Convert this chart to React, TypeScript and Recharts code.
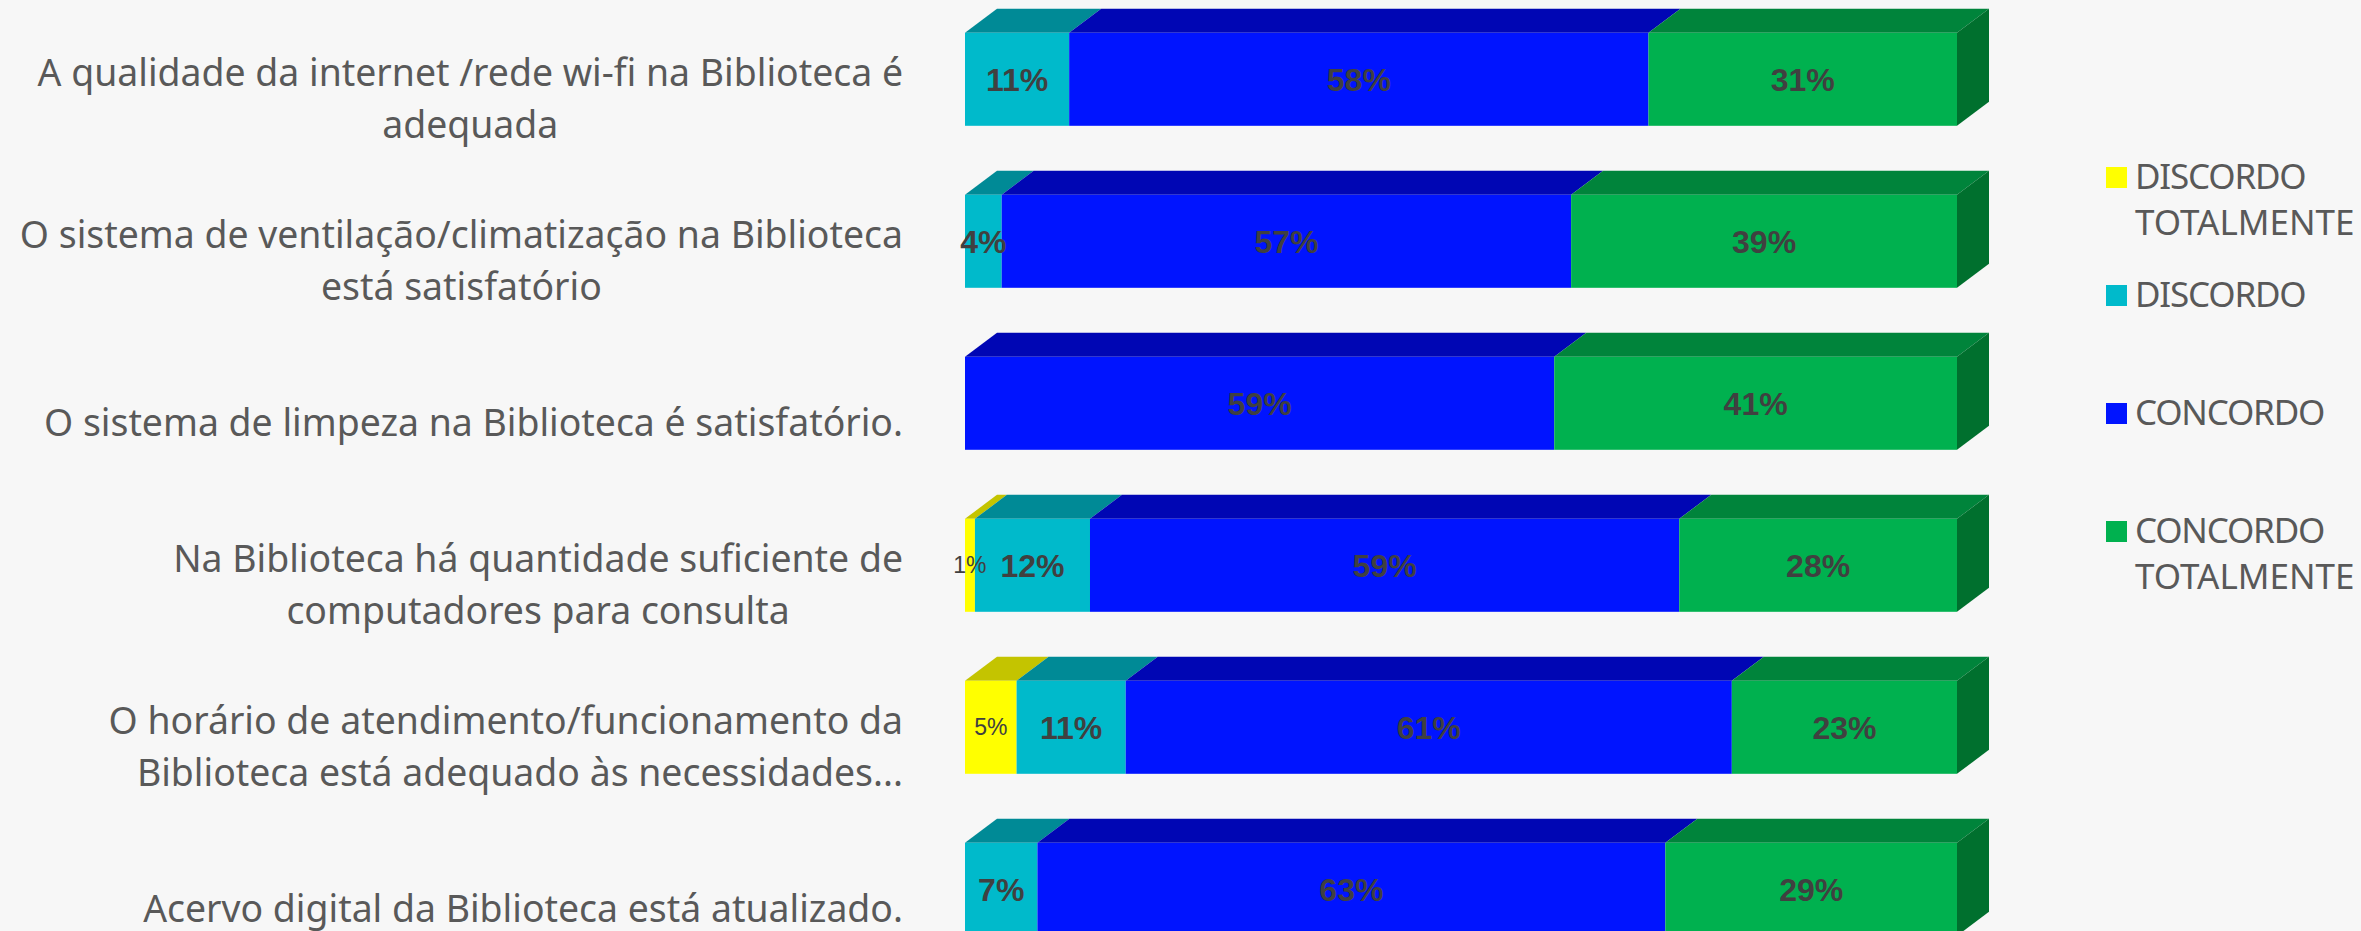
import React from "react";
import { BarChart, Bar, XAxis, YAxis, Legend, LabelList } from "recharts";

const categories = [
  "A qualidade da internet /rede wi-fi na Biblioteca é\nadequada",
  "O sistema de ventilação/climatização na Biblioteca\nestá satisfatório",
  "O sistema de limpeza na Biblioteca é satisfatório.",
  "Na Biblioteca há quantidade suficiente de\ncomputadores para consulta",
  "O horário de atendimento/funcionamento da\nBiblioteca está adequado às necessidades...",
  "Acervo digital da Biblioteca está atualizado.",
];
const discordoTotalmente = [0, 0, 0, 1, 5.2, 0];
const discordo = [10.5, 3.7, 0, 11.6, 11, 7.3];
const concordo = [58.4, 57.4, 59.4, 59.4, 61.1, 63.3];
const concordoTotalmente = [31.1, 38.9, 40.6, 28, 22.7, 29.4];

const seriesNames = ["DISCORDO TOTALMENTE", "DISCORDO", "CONCORDO", "CONCORDO TOTALMENTE"];
const seriesColors = ["#FFFF00", "#00BACB", "#0014FF", "#00B14F"];
const topColors = ["#C4C400", "#008A96", "#0006B4", "#00843B"];
const sideColor = "#00702E";

const data = categories.map((name, i) => ({
  name,
  dt: discordoTotalmente[i],
  d: discordo[i],
  c: concordo[i],
  ct: concordoTotalmente[i],
}));

const DEPTH_X = 32;
const DEPTH_Y = 24;
const BG = "#F7F7F7";
const TEXT_FONT = '"Noto Sans"';
const TEXT_SIZE = 37.4;
const LINE_PITCH = 52;

const measureCtx = typeof document !== "undefined" ? document.createElement("canvas").getContext("2d") : null;
function textWidth(s: string) {
  if (!measureCtx) return s.length * TEXT_SIZE * 0.5;
  measureCtx.font = `${TEXT_SIZE}px ${TEXT_FONT}`;
  return measureCtx.measureText(s).width;
}

function Block3D(props: any) {
  const { x, y, width, height, top, side } = props;
  if (!width || width <= 0) return null;
  const r = x + width;
  const b = y + height;
  return (
    <g>
      <polygon
        points={`${x},${y} ${x + DEPTH_X},${y - DEPTH_Y} ${r + DEPTH_X},${y - DEPTH_Y} ${r},${y}`}
        fill={top}
      />
      {side ? (
        <polygon
          points={`${r},${y} ${r + DEPTH_X},${y - DEPTH_Y} ${r + DEPTH_X},${b - DEPTH_Y} ${r},${b}`}
          fill={side}
        />
      ) : null}
      <rect x={x} y={y} width={width} height={height} fill={props.fill} />
    </g>
  );
}

function CategoryTick(props: any) {
  const { x, y, payload } = props;
  const lines = String(payload.value).split("\n");
  const maxW = Math.max(...lines.map(textWidth));
  const truncated = lines[lines.length - 1].endsWith("...");
  const firstY = y + 33 - ((lines.length - 1) * LINE_PITCH) / 2;
  return (
    <g>
      {lines.map((line, i) => (
        <text
          key={i}
          x={truncated ? x : x - maxW / 2}
          y={firstY + i * LINE_PITCH}
          textAnchor={truncated ? "end" : "middle"}
          fontFamily={TEXT_FONT}
          fontSize={TEXT_SIZE}
          fill="#595959"
        >
          {line}
        </text>
      ))}
    </g>
  );
}

function LegendBlock(props: any) {
  return (
    <div style={{ width: 255 }}>
      {props.payload.map((p: any) => (
        <div key={p.value} style={{ height: 118, position: "relative" }}>
          <div style={{ position: "absolute", left: 0, top: 0, width: 21, height: 21, background: p.color }} />
          <div
            style={{
              position: "absolute",
              left: 29,
              top: -14.4,
              width: 226,
              fontFamily: TEXT_FONT,
              fontSize: 35,
              lineHeight: "46px",
              color: "#595959",
            }}
          >
            {String(p.value)
              .split(" ")
              .map((word: string, i: number) => (
                <div key={word} style={{ letterSpacing: i === 0 ? -1.2 : 0 }}>
                  {word}
                </div>
              ))}
          </div>
        </div>
      ))}
    </div>
  );
}

const pct = (v: any) => (v ? `${Math.round(v)}%` : "");

const keys = ["dt", "d", "c", "ct"];

export default function App() {
  return (
    <div
      style={{
        position: "absolute",
        left: 0,
        top: 0,
        width: 2361,
        height: 931,
        overflow: "hidden",
        background: BG,
      }}
    >
      <div style={{ position: "absolute", left: 0, top: -20 }}>
        <BarChart
          width={2361}
          height={1000}
          data={data}
          layout="vertical"
          margin={{ top: 17.8, right: 149, bottom: 10.2, left: 0 }}
        >
          <XAxis type="number" domain={[0, 100]} hide />
          <YAxis
            type="category"
            dataKey="name"
            width={965}
            axisLine={false}
            tickLine={false}
            tickSize={0}
            tickMargin={62}
            interval={0}
            tick={<CategoryTick />}
          />
          <Legend
            layout="vertical"
            align="right"
            verticalAlign="top"
            width={255}
            itemSorter={null}
            wrapperStyle={{ left: 2106, top: 187 }}
            content={<LegendBlock />}
          />
          {keys.map((k, i) => (
            <Bar
              key={k}
              dataKey={k}
              name={seriesNames[i]}
              stackId="a"
              fill={seriesColors[i]}
              barSize={93}
              isAnimationActive={false}
              shape={(p: any) => (
                <Block3D {...p} top={topColors[i]} side={i === keys.length - 1 ? sideColor : undefined} />
              )}
            >
              <LabelList
                dataKey={k}
                position="center"
                formatter={pct}
                fill="#404040"
                fontFamily='"Liberation Sans"'
                fontSize={i === 0 ? 23 : 32}
                fontWeight={i === 0 ? 400 : 700}
              />
            </Bar>
          ))}
        </BarChart>
      </div>
    </div>
  );
}
